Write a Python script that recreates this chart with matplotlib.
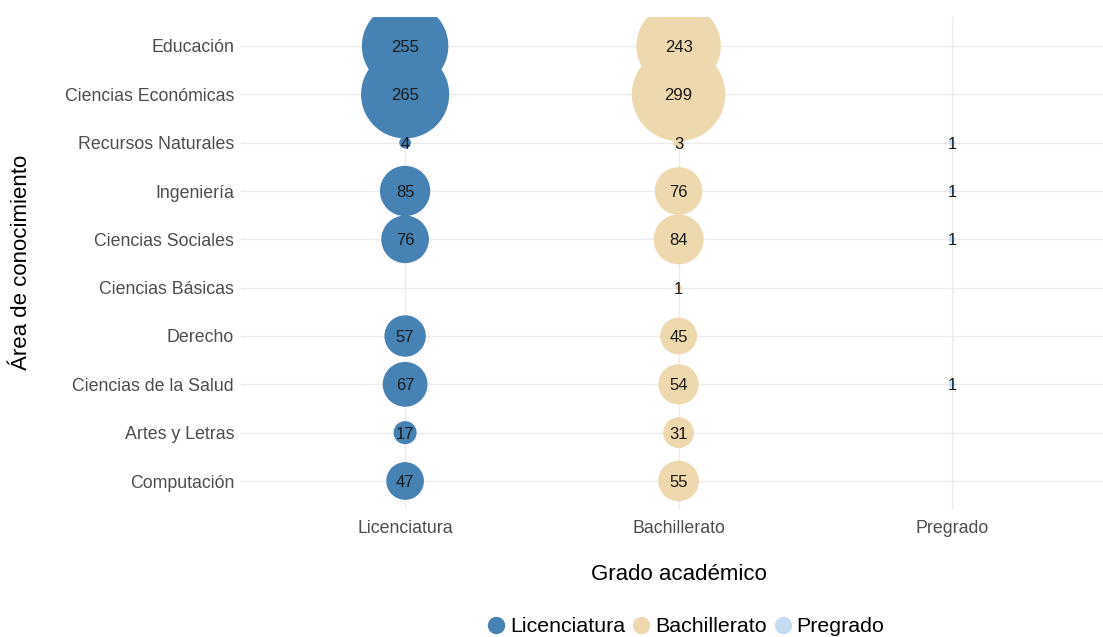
import numpy as np
import matplotlib.pyplot as plt
from matplotlib.lines import Line2D

plt.rcParams["font.family"] = ["Liberation Sans", "DejaVu Sans"]

# Áreas de conocimiento (de abajo hacia arriba)
areas = ["Computación", "Artes y Letras", "Ciencias de la Salud", "Derecho",
         "Ciencias Básicas", "Ciencias Sociales", "Ingeniería",
         "Recursos Naturales", "Ciencias Económicas", "Educación"]
grados = ["Licenciatura", "Bachillerato", "Pregrado"]
colores = ["#4682B4", "#EED8AE", "#C6DCF2"]

# Conteos por grado (None = sin registro)
licenciatura = [47, 17, 67, 57, None, 76, 85, 4, 265, 255]
bachillerato = [55, 31, 54, 45, 1, 84, 76, 3, 299, 243]
pregrado = [None, None, 1, None, None, 1, 1, 1, None, None]
series = [licenciatura, bachillerato, pregrado]

W, H = 1103, 637
fig = plt.figure(figsize=(W / 100, H / 100), dpi=100)
# panel geometry in pixels
left, right, top, bottom = 241, 1103, 17, 510
ax = fig.add_axes([left / W, (H - bottom) / H, (right - left) / W, (bottom - top) / H])

step = 273.5
ax.set_xlim(0.4, 0.4 + (right - left) / step)
ax.set_ylim(0.4, len(areas) + 0.6)

px = 0.72  # points per pixel at 100 dpi
for gi, (vals, col) in enumerate(zip(series, colores)):
    for ai, v in enumerate(vals):
        if v is None:
            continue
        d = 5.35 * np.sqrt(v) + 1.0  # diameter in px, area ~ value
        ax.scatter(gi + 1, ai + 1, s=(d * px) ** 2, color=col, edgecolors="none", zorder=3)
        ax.text(gi + 1, ai + 1, str(v), ha="center", va="center_baseline", fontsize=12,
                color="#1a1a1a", zorder=4)

ax.set_xticks(range(1, len(grados) + 1))
ax.set_xticklabels(grados)
ax.set_yticks(range(1, len(areas) + 1))
ax.set_yticklabels(areas)
ax.tick_params(length=0, labelsize=12.8, labelcolor="#4D4D4D")
ax.tick_params(axis="x", pad=7)
ax.tick_params(axis="y", pad=5)
ax.grid(True, color="#EBEBEB", linewidth=1.0, zorder=0)
ax.set_axisbelow(True)
for sp in ax.spines.values():
    sp.set_visible(False)

fig.text(679 / W, 1 - 575 / H, "Grado académico", ha="center", va="center", fontsize=16)
fig.text(22 / W, 1 - 262 / H, "Área de conocimiento", ha="center", va="center",
         rotation=90, fontsize=16)

handles = [Line2D([], [], marker="o", linestyle="none", markersize=12.5,
                  markerfacecolor=c, markeredgecolor="none") for c in colores]
fig.legend(handles, grados, loc="center", bbox_to_anchor=(684 / W, 1 - 627 / H),
           ncol=3, frameon=False, fontsize=15.4, handletextpad=0.05, columnspacing=0.15,
           handlelength=1.2)

fig.savefig("out.png", dpi=100)
